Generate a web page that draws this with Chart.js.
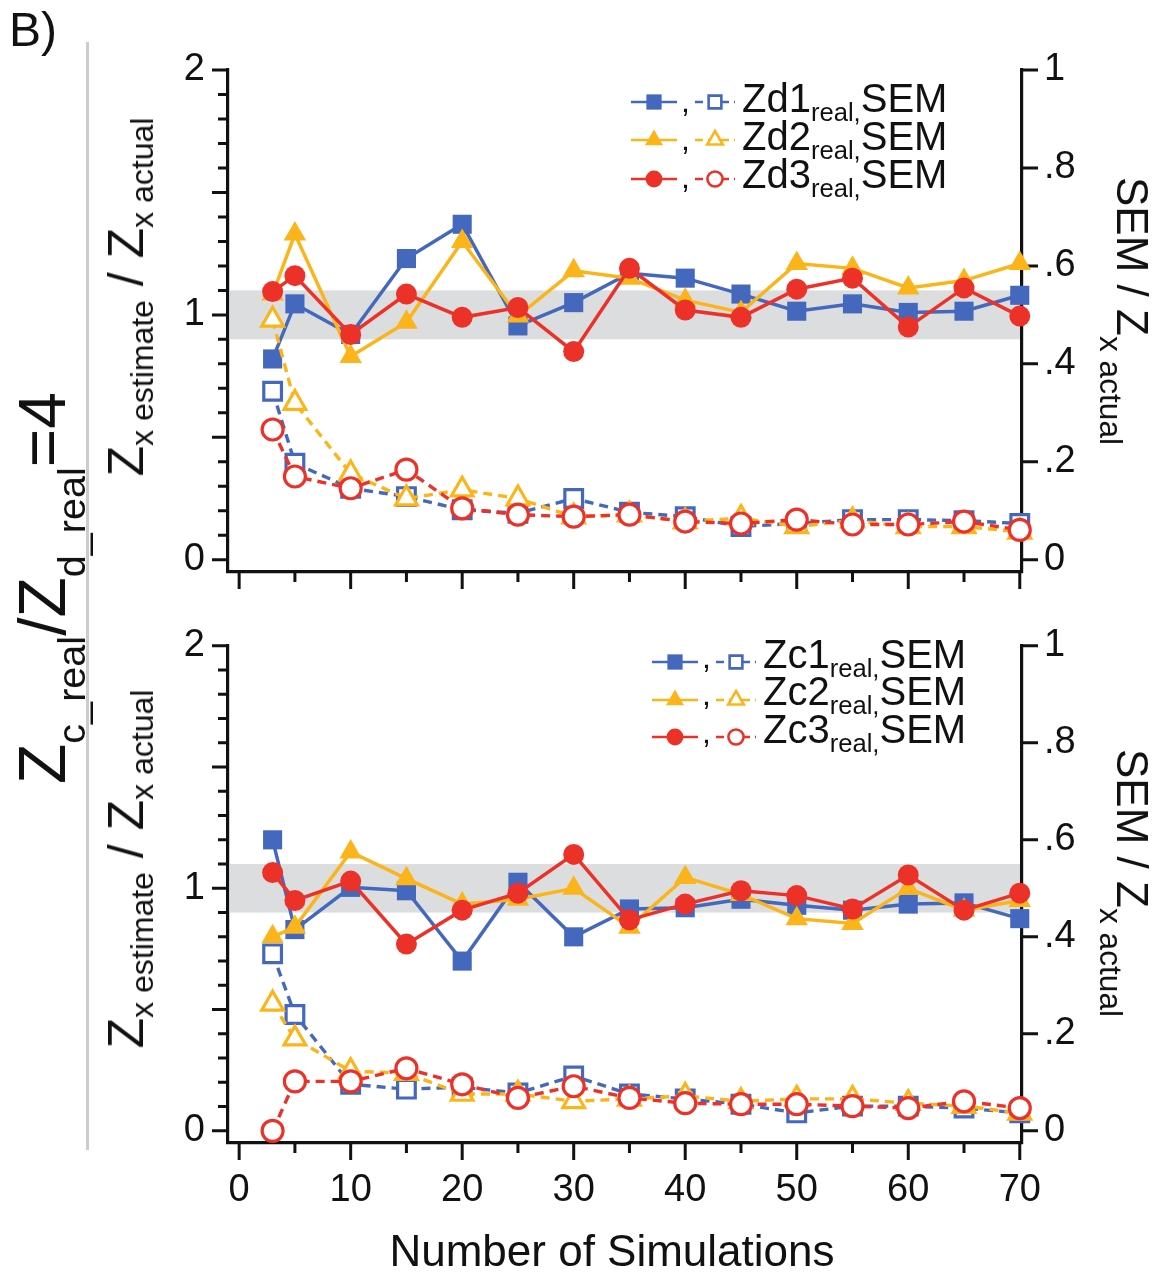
<!DOCTYPE html>
<html>
<head>
<meta charset="utf-8">
<title>Z estimate vs number of simulations</title>
<script src="https://cdn.jsdelivr.net/npm/chart.js@4.4.0/dist/chart.umd.min.js"></script>
<style>
    body { margin: 0; background: #fff; }
    #page {
        position: relative;
        width: 1163px;
        height: 1276px;
        overflow: hidden;
        font-family: "Liberation Sans", Arial, sans-serif;
        color: #111;
    }
    canvas { position: absolute; left: 0; }
    .txt, .rot { position: absolute; white-space: nowrap; line-height: 1; z-index: 2; }
    .rot { transform-origin: 50% 50%; }
    .sub { position: relative; font-size: 0.64em; }
    .divider { position: absolute; left: 86px; top: 42px; width: 3px; height: 1108px; background: #c9cdcd; }
</style>
</head>
<body>
<div id="page">
    <canvas id="topChart" width="1163" height="620" style="top:0px"></canvas>
    <canvas id="bottomChart" width="1163" height="676" style="top:600px"></canvas>

    <div class="txt" style="left:9px; top:6px; font-size:48px;">B)</div>
    <div class="divider"></div>

    <!-- big vertical label -->
    <div class="rot" style="left:42px; top:588px; font-size:66px; height:66px; line-height:66px; transform:translate(-50%,-50%) rotate(-90deg);">Z<span class="sub" style="top:0.5em; font-size:0.6em">c_real</span>/Z<span class="sub" style="top:0.5em; font-size:0.6em">d_real</span>=4</div>

    <!-- left axis titles -->
    <div class="rot" style="left:126px; top:297px; font-size:50px; height:50px; line-height:50px; transform:translate(-50%,-50%) rotate(-90deg);">Z<span class="sub" style="top:0.3em">x estimate</span> / Z<span class="sub" style="top:0.3em">x actual</span></div>
    <div class="rot" style="left:126px; top:869px; font-size:50px; height:50px; line-height:50px; transform:translate(-50%,-50%) rotate(-90deg);">Z<span class="sub" style="top:0.3em">x estimate</span> / Z<span class="sub" style="top:0.3em">x actual</span></div>

    <!-- right axis titles -->
    <div class="rot" style="left:1132px; top:311px; font-size:44px; height:44px; line-height:44px; transform:translate(-50%,-50%) rotate(90deg);">SEM / Z<span class="sub" style="top:0.55em; font-size:0.72em">x actual</span></div>
    <div class="rot" style="left:1132px; top:883px; font-size:44px; height:44px; line-height:44px; transform:translate(-50%,-50%) rotate(90deg);">SEM / Z<span class="sub" style="top:0.55em; font-size:0.72em">x actual</span></div>

    <div id="legendText"></div>

    <div class="txt" style="left:612px; top:1229px; font-size:44px; transform:translateX(-50%);">Number of Simulations</div>
</div>

<script>
// ---- data ----
const simCounts = [3, 5, 10, 15, 20, 25, 30, 35, 40, 45, 50, 55, 60, 65, 70];

// top panel (Zd), left axis: Z estimate / Z actual
const zd1Ratio = [0.82, 1.045, 0.92, 1.23, 1.37, 0.955, 1.05, 1.17, 1.15, 1.085, 1.015, 1.045, 1.01, 1.015, 1.08];
const zd2Ratio = [1.085, 1.33, 0.83, 0.97, 1.30, 0.995, 1.18, 1.15, 1.06, 1.01, 1.21, 1.19, 1.11, 1.14, 1.21];
const zd3Ratio = [1.095, 1.16, 0.92, 1.085, 0.99, 1.03, 0.85, 1.19, 1.02, 0.99, 1.105, 1.15, 0.95, 1.11, 0.995];
// top panel, right axis: SEM / Z actual
const zd1Sem = [0.344, 0.197, 0.146, 0.129, 0.102, 0.095, 0.125, 0.097, 0.088, 0.068, 0.074, 0.082, 0.082, 0.080, 0.074];
const zd2Sem = [0.49, 0.32, 0.176, 0.125, 0.143, 0.125, 0.088, 0.092, 0.078, 0.085, 0.068, 0.080, 0.068, 0.068, 0.057];
const zd3Sem = [0.266, 0.17, 0.146, 0.184, 0.105, 0.092, 0.088, 0.092, 0.078, 0.074, 0.082, 0.072, 0.072, 0.078, 0.061];

// bottom panel (Zc)
const zc1Ratio = [1.20, 0.83, 1.004, 0.99, 0.70, 1.025, 0.80, 0.915, 0.92, 0.955, 0.93, 0.91, 0.935, 0.94, 0.875];
const zc2Ratio = [0.80, 0.84, 1.15, 1.04, 0.935, 0.955, 1.00, 0.84, 1.045, 0.975, 0.875, 0.855, 1.00, 0.91, 0.95];
const zc3Ratio = [1.065, 0.95, 1.03, 0.77, 0.91, 0.98, 1.14, 0.87, 0.935, 0.99, 0.97, 0.915, 1.055, 0.91, 0.98];
const zc1Sem = [0.365, 0.24, 0.096, 0.086, 0.09, 0.078, 0.113, 0.076, 0.066, 0.055, 0.037, 0.051, 0.051, 0.047, 0.037];
const zc2Sem = [0.262, 0.19, 0.123, 0.119, 0.076, 0.076, 0.061, 0.066, 0.072, 0.061, 0.066, 0.066, 0.057, 0.051, 0.037];
const zc3Sem = [0.0, 0.102, 0.102, 0.129, 0.096, 0.068, 0.092, 0.068, 0.057, 0.055, 0.055, 0.051, 0.047, 0.061, 0.047];

const xTickValues = [0, 10, 20, 30, 40, 50, 60, 70];
const leftTickValues = [0, 1, 2];
const rightTickValues = [0, 0.2, 0.4, 0.6, 0.8, 1];
const bandRange = [0.9, 1.1];

const topLegendLabels = ['Zd1', 'Zd2', 'Zd3'];
const bottomLegendLabels = ['Zc1', 'Zc2', 'Zc3'];

// ---- styles ----
const COLORS = ['#4468be', '#fbb51a', '#ec3228'];
const SOLID_POINT = [
    { style: 'rect', r: 13.5 },
    { style: 'triangle', r: 13 },
    { style: 'circle', r: 10.5 }
];
const OPEN_POINT = [
    { style: 'rect', r: 12.5 },
    { style: 'triangle', r: 12.5 },
    { style: 'circle', r: 10.5 }
];
const INK = '#111';

Chart.defaults.font.family = '"Liberation Sans", Arial, sans-serif';
Chart.defaults.color = INK;

function toPoints(values) {
    return simCounts.map((x, i) => ({ x: x, y: values[i] }));
}

function solidSet(values, k) {
    return {
        data: toPoints(values),
        yAxisID: 'y',
        borderColor: COLORS[k],
        backgroundColor: COLORS[k],
        borderWidth: 3.5,
        pointStyle: SOLID_POINT[k].style,
        pointRadius: SOLID_POINT[k].r,
        pointBackgroundColor: COLORS[k],
        pointBorderColor: COLORS[k],
        pointBorderWidth: 0,
        order: 3 - k,
        clip: false
    };
}

function semSet(values, k) {
    return {
        data: toPoints(values),
        yAxisID: 'y2',
        borderColor: COLORS[k],
        backgroundColor: '#fff',
        borderWidth: 3.4,
        borderDash: [9, 6],
        pointStyle: OPEN_POINT[k].style,
        pointRadius: OPEN_POINT[k].r,
        pointBackgroundColor: '#fff',
        pointBorderColor: COLORS[k],
        pointBorderWidth: 3.2,
        order: 3 - k,
        clip: false
    };
}

/**
 * band + tick marks (ticks have different lengths, so drawn by hand)
 */
const axisDecor = {
    id: 'axisDecor',
    beforeDatasetsDraw(chart) {
        const { ctx, chartArea: a, scales } = chart;
        const x = scales.x, y = scales.y, y2 = scales.y2;
        ctx.save();

        const bTop = y.getPixelForValue(bandRange[1]);
        const bBot = y.getPixelForValue(bandRange[0]);
        ctx.fillStyle = '#dcdddf';
        ctx.fillRect(a.left + 2, bTop, a.right - a.left - 4, bBot - bTop);

        ctx.strokeStyle = INK;
        ctx.lineWidth = 3;
        ctx.beginPath();
        // left axis: every 0.1, longer every 0.5
        for (let i = 0; i <= 20; i++) {
            const p = y.getPixelForValue(i / 10);
            const len = i % 5 === 0 ? 16 : 10;
            ctx.moveTo(a.left, p);
            ctx.lineTo(a.left - len, p);
        }
        // right axis
        rightTickValues.forEach(v => {
            const p = y2.getPixelForValue(v);
            ctx.moveTo(a.right, p);
            ctx.lineTo(a.right + 16, p);
        });
        // x axis: every 5, longer every 10
        for (let v = 0; v <= 70; v += 5) {
            const p = x.getPixelForValue(v);
            const len = v % 10 === 0 ? 17 : 10;
            ctx.moveTo(p, a.bottom);
            ctx.lineTo(p, a.bottom + len);
        }
        ctx.stroke();
        ctx.restore();
    },
    afterDraw(chart, args, opts) {
        // legend symbols
        const ctx = chart.ctx;
        ctx.save();
        opts.rows.forEach((rowY, k) => {
            const x0 = opts.x;
            ctx.lineWidth = 2.6;
            ctx.strokeStyle = COLORS[k];
            ctx.setLineDash([]);
            ctx.beginPath();
            ctx.moveTo(x0, rowY);
            ctx.lineTo(x0 + 46, rowY);
            ctx.stroke();
            ctx.fillStyle = COLORS[k];
            Chart.helpers.drawPoint(ctx, {
                pointStyle: SOLID_POINT[k].style,
                radius: SOLID_POINT[k].r * 0.8,
                rotation: 0,
                borderWidth: 0
            }, x0 + 23, rowY);

            ctx.setLineDash([8, 5]);
            ctx.beginPath();
            ctx.moveTo(x0 + 64, rowY);
            ctx.lineTo(x0 + 104, rowY);
            ctx.stroke();
            ctx.setLineDash([]);
            ctx.fillStyle = '#fff';
            ctx.lineWidth = 2.6;
            Chart.helpers.drawPoint(ctx, {
                pointStyle: OPEN_POINT[k].style,
                radius: OPEN_POINT[k].r * 0.72,
                rotation: 0,
                borderWidth: 2.6
            }, x0 + 84, rowY);
        });
        ctx.restore();
    }
};

function buildPanel(canvasId, solids, sems, opts) {
    const ctx = document.getElementById(canvasId).getContext('2d');
    const datasets = [];
    solids.forEach((vals, k) => datasets.push(solidSet(vals, k)));
    sems.forEach((vals, k) => datasets.push(semSet(vals, k)));

    return new Chart(ctx, {
        type: 'line',
        data: { datasets: datasets },
        plugins: [axisDecor],
        options: {
            responsive: false,
            animation: false,
            devicePixelRatio: 1,
            events: [],
            layout: { padding: { top: opts.padTop, left: 0, right: 0, bottom: 0 } },
            plugins: {
                legend: { display: false },
                tooltip: { enabled: false },
                axisDecor: { rows: opts.legendRows, x: opts.legendX }
            },
            scales: {
                x: {
                    type: 'linear',
                    min: -1,
                    max: 70.2,
                    grid: { display: false, drawTicks: false },
                    border: { display: true, width: 3.2, color: INK },
                    afterBuildTicks: s => { s.ticks = xTickValues.map(v => ({ value: v })); },
                    ticks: {
                        display: opts.showX,
                        font: { size: 38 },
                        color: INK,
                        padding: 25,
                        maxRotation: 0,
                        autoSkip: false
                    },
                    afterFit: s => { s.height = opts.xHeight; }
                },
                y: {
                    position: 'left',
                    min: -0.05,
                    max: 2,
                    grid: { display: false, drawTicks: false },
                    border: { display: true, width: 3.2, color: INK },
                    afterBuildTicks: s => { s.ticks = leftTickValues.map(v => ({ value: v })); },
                    ticks: { font: { size: 38 }, color: INK, padding: 23, callback: v => String(v) },
                    afterFit: s => { s.width = 228; }
                },
                y2: {
                    position: 'right',
                    min: -0.025,
                    max: 1,
                    grid: { display: false, drawTicks: false },
                    border: { display: true, width: 3.2, color: INK },
                    afterBuildTicks: s => { s.ticks = rightTickValues.map(v => ({ value: v })); },
                    ticks: {
                        font: { size: 38 },
                        color: INK,
                        padding: 22,
                        callback: v => (v === 0 || v === 1) ? String(v) : String(+v.toFixed(1)).replace(/^0/, '')
                    },
                    afterFit: s => { s.width = 141; }
                }
            }
        }
    });
}

/**
 * legend text (HTML so the subscripts stay real text)
 */
function writeLegend(labels, left, baselines, commaX) {
    const box = document.getElementById('legendText');
    labels.forEach((lab, k) => {
        const row = document.createElement('div');
        row.className = 'txt';
        row.style.left = left + 'px';
        row.style.top = (baselines[k] - 0.8465 * 40) + 'px';
        row.style.fontSize = '40px';
        row.innerHTML = lab + '<span class="sub" style="top:0.33em; font-size:0.64em">real,</span>SEM';
        box.appendChild(row);

        const comma = document.createElement('div');
        comma.className = 'txt';
        comma.style.left = commaX + 'px';
        comma.style.top = (baselines[k] - 0.8465 * 32) + 'px';
        comma.style.fontSize = '32px';
        comma.textContent = ',';
        box.appendChild(comma);
    });
}

buildPanel('topChart', [zd1Ratio, zd2Ratio, zd3Ratio], [zd1Sem, zd2Sem, zd3Sem], {
    padTop: 70, xHeight: 48, showX: false, legendRows: [102, 140, 179], legendX: 631
});
buildPanel('bottomChart', [zc1Ratio, zc2Ratio, zc3Ratio], [zc1Sem, zc2Sem, zc3Sem], {
    padTop: 42, xHeight: 133, showX: true, legendRows: [62, 100, 137], legendX: 652
});

writeLegend(topLegendLabels, 742, [112, 150, 188], 681);
writeLegend(bottomLegendLabels, 763, [668, 705, 743], 702);
</script>
</body>
</html>
